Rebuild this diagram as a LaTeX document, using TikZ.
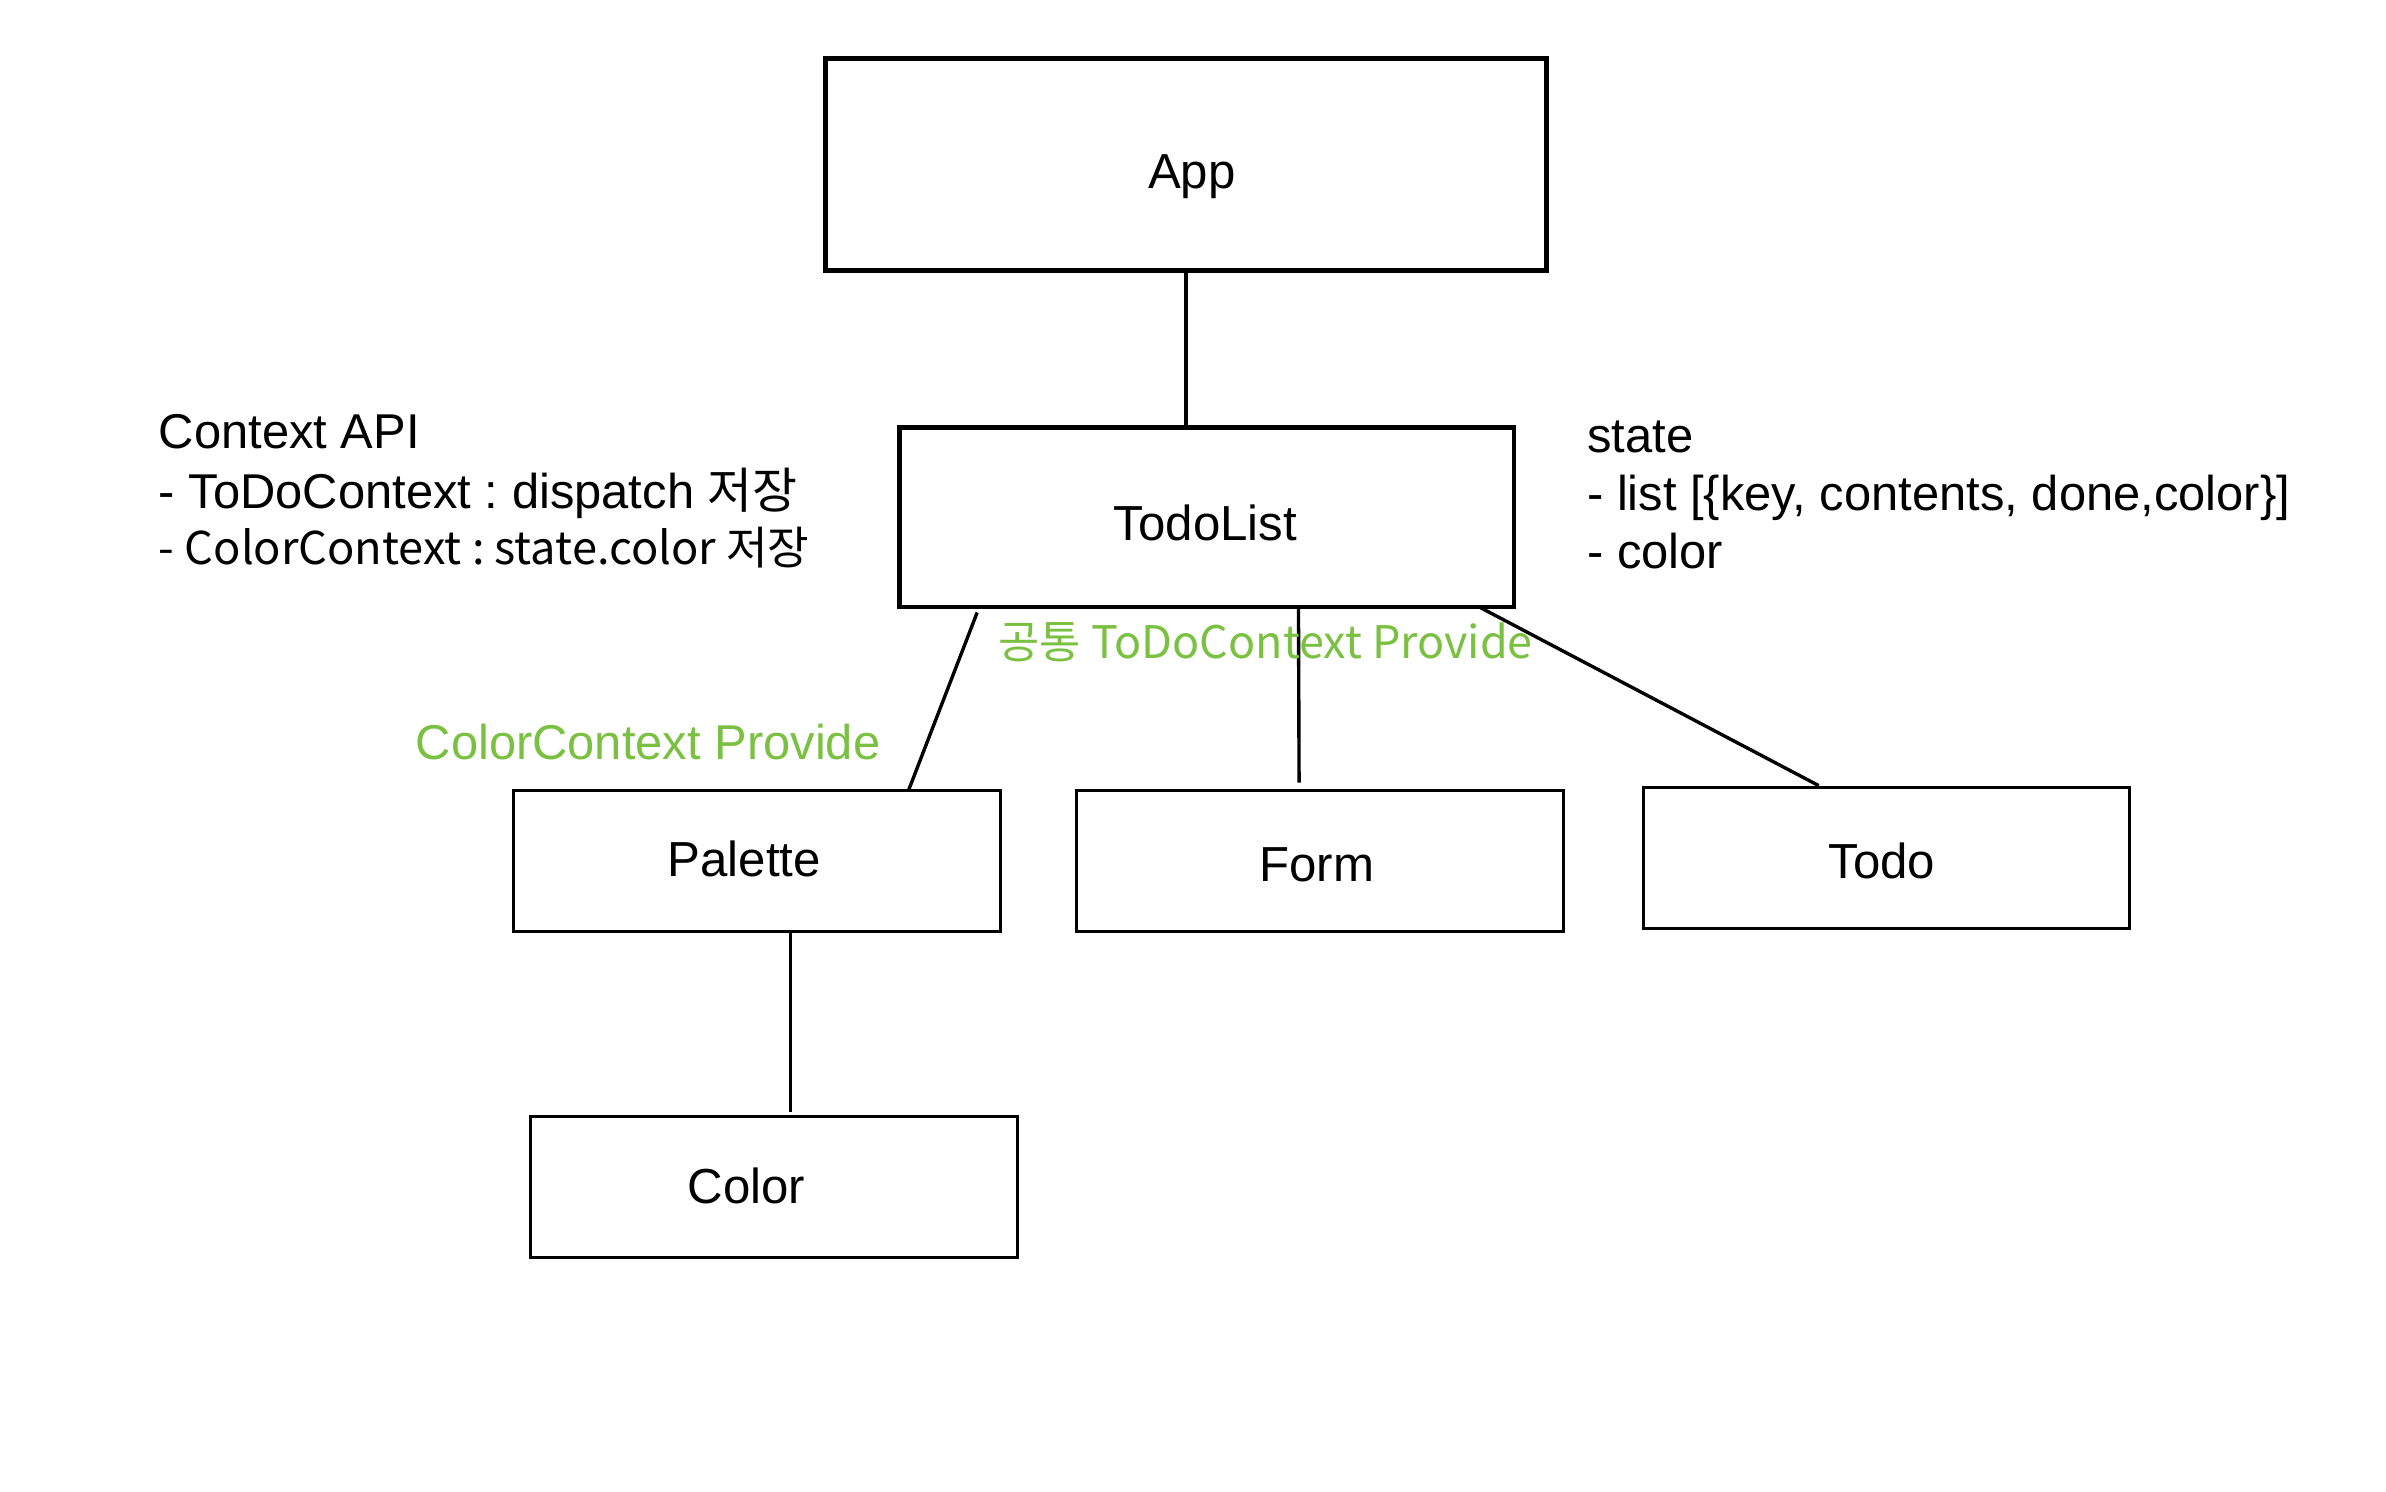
\documentclass[tikz,border=0pt]{standalone}
\usepackage{fontspec}
\setmainfont{Liberation Sans}
\newfontfamily\cjk{Noto Sans CJK KR}
\usetikzlibrary{calc}
\definecolor{provgreen}{RGB}{122,193,66}
\frenchspacing
\begin{document}
\begin{tikzpicture}[x=0.5pt,y=-0.5pt,
  box/.style={draw=black,line width=1pt,inner sep=0pt},
  boxtext/.style={inner sep=0pt,text height=11.45pt,text depth=0pt,font=\fontsize{16}{18}\selectfont},
  wire/.style={draw=black,line width=1.1pt},
  note/.style={anchor=base west,inner sep=0pt,font=\fontsize{15.9}{18}\selectfont},
  cjknote/.style={anchor=base west,inner sep=0pt,font=\cjk\fontsize{14.7}{18}\selectfont},
  greennote/.style={anchor=base west,inner sep=0pt,text=provgreen,font=\fontsize{15.9}{18}\selectfont},
  greencjk/.style={anchor=base west,inner sep=0pt,text=provgreen,font=\cjk\fontsize{14.6}{18}\selectfont}]
\useasboundingbox (0,0) rectangle (1552,970);
\fill[white] (0,0) rectangle (1552,970);

% boxes
\node[box,line width=1.6pt,minimum width=234.5pt,minimum height=69pt,
  label={[boxtext,name=apptext,xshift=1.85pt,yshift=-2pt]center:App}] (app) at (771.5,107) {};
\node[box,line width=1.4pt,minimum width=200pt,minimum height=58.5pt,
  label={[boxtext,name=todolisttext,xshift=-0.5pt,yshift=-1.8pt]center:TodoList}] (todolist) at (785,336.5) {};
\node[box,minimum width=158.5pt,minimum height=46pt,
  label={[boxtext,name=palettetext,xshift=-4.2pt,yshift=0.6pt]center:Palette}] (palette) at (492.5,560) {};
\node[box,minimum width=158.5pt,minimum height=46pt,
  label={[boxtext,name=formtext,xshift=-1pt,yshift=-0.8pt]center:Form}] (form) at (858.5,560) {};
\node[box,minimum width=158pt,minimum height=46pt,
  label={[boxtext,name=todotext,xshift=-1.5pt,yshift=-1.1pt]center:Todo}] (todo) at (1227,558) {};
\node[box,minimum width=158.5pt,minimum height=46pt,
  label={[boxtext,name=colortext,xshift=-9pt,yshift=0.45pt]center:Color}] (color) at (503.5,772) {};

% connectors
\draw[wire] (app.south) -- (app.south |- todolist.north);
\draw[wire] ($(todolist.south west)+(52,2)$) -- ($(palette.north west)+(258,1)$);
\draw[wire] ($(todolist.south west)+(261,-2)$) -- ($(form.north west)+(146,-4)$);
\draw[wire] ($(todolist.south east)+(-25,-2)$) -- ($(todo.north west)+(115,0)$);
\draw[wire] ($(palette.south)+(21.5,0)$) -- ($(color.north)+(10.5,-2)$);

% left notes
\node[note] (ctxapi) at (103,292) {Context API};
\node[note] (ctxtodo) at (103,331) {- ToDoContext : dispatch {\cjk 저장}};
\node[cjknote] (ctxcolor) at (103,367) {- ColorContext : state.color 저장};

% right notes
\node[note] (st) at (1032,294) {state};
\node[note] (stlist) at (1032,332) {- list [\{key, contents, done,color\}]};
\node[note] (stcolor) at (1032,370) {- color};

% green labels
\node[greencjk] (common) at (649,428) {공통 ToDoContext Provide};
\node[greennote] (colorprov) at (270,494) {ColorContext Provide};
\end{tikzpicture}
\end{document}
